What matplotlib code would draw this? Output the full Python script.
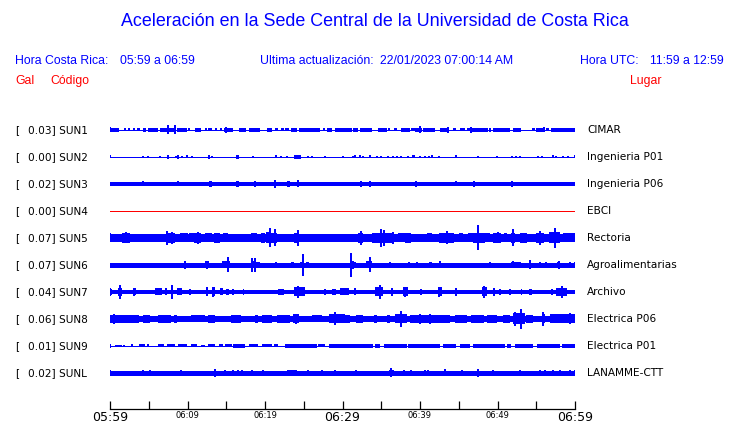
import matplotlib
matplotlib.use('Agg')
import matplotlib.pyplot as plt

# tamaño de la imagen original en pixeles
W, H = 740, 423

# estaciones, aceleración pico [Gal] y lugar
estaciones = ['SUN1', 'SUN2', 'SUN3', 'SUN4', 'SUN5', 'SUN6', 'SUN7', 'SUN8', 'SUN9', 'SUNL']
picos = [0.03, 0.00, 0.02, 0.00, 0.07, 0.07, 0.04, 0.06, 0.01, 0.02]
lugares = ['CIMAR', 'Ingenieria P01', 'Ingenieria P06', 'EBCI', 'Rectoria',
           'Agroalimentarias', 'Archivo', 'Electrica P06', 'Electrica P01', 'LANAMME-CTT']

# etiquetas del eje de tiempo (cada 10 min, ticks cada 5 min)
horas = ['05:59', '06:09', '06:19', '06:29', '06:39', '06:49', '06:59']

# ancho base de cada traza (media amplitud en px)
base = [0.5, 0.5, 1.9, 0.5, 3.2, 1.6, 2.0, 3.0, 0.5, 1.6]

# tramos con mayor actividad: (minuto inicio, minuto fin, media amplitud px)
tramos_sun1 = [(0.0, 1.1, 1.7), (1.8, 2.0, 1.5), (2.3, 2.6, 1.5), (3.0, 3.2, 1.5), (3.5, 3.9, 1.5),
               (4.2, 4.7, 1.7), (4.9, 6.2, 1.7), (6.4, 7.3, 2.0), (7.3, 8.4, 2.3), (8.6, 9.9, 2.0),
               (10.1, 10.3, 1.5), (11.0, 11.8, 1.7), (12.3, 12.5, 1.5), (12.7, 13.1, 1.5),
               (13.5, 13.8, 1.5), (14.2, 14.4, 1.5), (14.7, 15.9, 1.8), (16.6, 17.6, 1.7),
               (17.9, 19.3, 1.7), (20.2, 20.9, 1.7), (21.3, 21.7, 1.5), (22.1, 22.4, 1.5),
               (22.6, 23.1, 1.5), (23.4, 24.1, 1.7), (24.4, 27.1, 1.7), (27.5, 27.8, 1.5),
               (28.0, 28.6, 1.7), (29.0, 31.2, 1.7), (31.4, 32.0, 1.7), (32.3, 33.8, 1.7),
               (34.6, 35.7, 1.7), (35.9, 36.1, 1.5), (36.6, 37.0, 1.5), (37.6, 38.7, 1.7),
               (38.9, 39.3, 1.5), (39.4, 40.2, 2.2), (40.4, 41.9, 1.7), (42.6, 43.6, 1.7),
               (44.3, 44.7, 1.5), (45.2, 45.8, 1.5), (46.0, 46.4, 1.5), (46.6, 48.8, 1.7),
               (49.4, 51.6, 1.7), (52.0, 53.0, 1.7), (54.4, 54.8, 1.5), (55.0, 56.1, 1.7),
               (56.3, 56.7, 1.5), (56.9, 60.0, 2.0)]
tramos_sun2 = [(7.4, 7.6, 1.7), (8.7, 8.9, 2.0), (12.6, 12.9, 1.8), (16.2, 16.6, 1.8),
               (23.7, 24.7, 1.8), (39.0, 39.4, 1.5)]
tramos_sun3 = [(12.8, 13.2, 3.0), (16.2, 16.6, 2.7), (22.9, 23.2, 3.0), (32.2, 32.5, 3.3),
               (33.4, 33.7, 2.7), (39.3, 39.6, 2.7), (46.8, 47.1, 2.8)]
tramos_sun4 = []
tramos_sun5 = [(0.0, 1.6, 3.8), (1.6, 2.6, 4.8), (3.0, 3.6, 4.0), (4.3, 5.0, 4.0), (5.6, 6.3, 4.0),
               (6.6, 7.2, 4.0), (7.2, 8.4, 5.0), (9.0, 10.0, 4.5), (10.2, 10.8, 4.5),
               (10.9, 11.7, 5.0), (12.2, 13.2, 4.5), (13.4, 14.2, 5.0), (14.6, 15.2, 4.5),
               (16.0, 17.4, 4.0), (18.2, 19.0, 4.5), (19.5, 20.0, 5.0), (20.1, 20.7, 5.5),
               (20.7, 21.6, 5.0), (21.9, 23.4, 4.0), (23.8, 24.4, 5.0), (24.6, 30.3, 4.2),
               (30.3, 31.4, 4.0), (32.0, 32.6, 5.0), (33.8, 36.6, 5.0), (37.2, 38.0, 4.5),
               (38.0, 38.8, 5.0), (40.9, 41.6, 4.5), (42.5, 44.4, 5.0), (45.0, 45.6, 4.5),
               (46.2, 46.9, 4.5), (46.9, 48.4, 5.0), (48.4, 49.0, 4.5), (49.4, 50.4, 5.0),
               (50.8, 51.2, 4.5), (51.8, 52.2, 5.0), (52.9, 53.8, 5.0), (55.0, 56.0, 5.0),
               (56.7, 58.1, 5.5), (58.4, 60.0, 4.5)]
tramos_sun6 = [(2.0, 2.3, 2.3), (4.6, 5.2, 2.3), (5.8, 6.9, 2.3), (7.9, 8.8, 2.3), (12.3, 12.8, 3.5),
               (14.4, 15.5, 3.5), (18.2, 18.9, 3.5), (18.9, 19.3, 3.0), (21.3, 21.6, 2.5),
               (22.4, 22.7, 2.3), (23.4, 23.7, 2.5), (24.5, 25.0, 3.0), (25.3, 25.7, 3.0),
               (27.6, 30.3, 2.0), (31.0, 31.7, 3.0), (33.0, 33.8, 3.5), (38.4, 38.7, 2.7),
               (41.2, 41.5, 2.5), (42.0, 44.0, 2.3), (51.8, 53.0, 2.8), (57.7, 58.1, 3.0)]
tramos_sun7 = [(0.0, 0.2, 3.0), (1.0, 1.6, 4.0), (3.0, 3.3, 3.5), (5.8, 6.7, 3.5), (7.1, 7.4, 3.5),
               (8.7, 9.3, 3.5), (10.2, 10.5, 3.0), (12.4, 12.7, 4.0), (13.1, 13.5, 4.5),
               (14.2, 14.6, 3.5), (15.0, 15.3, 3.0), (15.8, 16.0, 3.0), (17.1, 17.3, 3.0),
               (21.7, 22.5, 3.0), (23.8, 25.1, 4.5), (27.6, 27.9, 3.0), (28.6, 29.1, 3.0),
               (29.7, 30.8, 3.5), (31.5, 31.7, 3.5), (34.2, 35.2, 4.5), (36.3, 36.5, 3.5),
               (37.8, 38.5, 4.5), (40.0, 40.2, 3.0), (42.3, 42.8, 4.5), (44.6, 44.8, 3.5),
               (48.0, 48.6, 4.5), (49.4, 49.6, 3.5), (50.2, 50.4, 3.0), (51.5, 51.8, 3.0),
               (53.0, 53.2, 3.0), (54.1, 54.4, 3.0), (56.9, 57.1, 3.0), (57.6, 59.0, 4.0)]
tramos_sun8 = [(0.0, 3.7, 4.0), (4.2, 5.2, 3.8), (6.2, 7.9, 4.0), (8.3, 8.6, 4.0), (10.4, 12.3, 3.5),
               (12.7, 13.5, 4.0), (15.6, 16.9, 3.8), (18.7, 19.1, 4.0), (19.6, 20.9, 4.0),
               (21.5, 23.2, 3.8), (23.6, 24.4, 4.5), (26.0, 27.3, 3.5), (28.3, 30.3, 4.5),
               (29.7, 31.0, 3.8), (31.8, 32.7, 4.0), (34.0, 34.4, 3.8), (35.7, 36.1, 3.8),
               (36.8, 38.3, 4.5), (38.7, 43.9, 4.3), (44.5, 46.0, 3.8), (46.6, 48.2, 4.0),
               (48.6, 49.9, 4.0), (50.7, 51.6, 3.8), (52.0, 53.5, 5.5), (53.7, 54.6, 4.0),
               (55.7, 56.1, 4.5), (56.8, 60.0, 4.5)]
tramos_sun9 = [(0.6, 1.5, 1.4), (1.7, 1.9, 1.4), (3.7, 4.5, 1.5), (4.9, 5.0, 1.4), (6.2, 7.0, 1.5),
               (7.4, 8.4, 1.5), (8.8, 9.9, 1.5), (10.5, 11.2, 1.5), (11.8, 12.3, 1.4),
               (12.7, 13.5, 1.5), (14.0, 14.6, 1.5), (14.8, 15.7, 1.5), (15.9, 17.4, 1.6),
               (17.9, 19.1, 1.5), (19.6, 20.9, 1.5), (21.1, 21.7, 1.5), (22.6, 26.7, 1.6),
               (26.9, 27.7, 1.5), (28.2, 34.0, 1.6), (34.2, 34.8, 1.6), (35.3, 38.3, 1.7),
               (38.5, 42.6, 1.7), (43.0, 44.7, 1.7), (45.2, 46.5, 1.7), (46.9, 51.0, 1.7),
               (51.2, 51.8, 1.7), (52.2, 54.6, 1.7), (55.1, 58.1, 1.7), (58.3, 60.0, 1.7)]
tramos_sunl = [(0.0, 2.5, 2.0), (22.9, 24.1, 2.5), (36.0, 36.6, 3.0)]

# picos aislados: (minuto, media amplitud px)
picos_sun1 = [(0.0, 2.5), (7.5, 4.5), (8.4, 4.5), (15.0, 2.8), (40.0, 3.5), (43.6, 2.7),
              (46.6, 2.7), (49.0, 2.2), (56.0, 2.5)]
picos_sun2 = [(0.0, 1.5), (4.3, 1.3), (4.9, 1.0), (6.4, 1.0), (8.5, 1.0), (9.3, 1.3), (9.9, 1.5),
              (10.6, 1.0), (13.2, 1.3), (18.5, 1.0), (21.4, 1.5), (22.1, 1.0), (22.9, 1.3),
              (25.5, 1.0), (26.1, 1.0), (27.7, 1.0), (30.0, 1.0), (31.3, 1.0), (31.6, 1.5),
              (32.2, 1.5), (32.7, 1.3), (33.5, 1.5), (34.4, 1.0), (35.0, 1.0), (35.9, 1.0),
              (36.5, 1.3), (37.0, 1.0), (37.6, 1.0), (38.5, 1.0), (40.0, 1.0), (40.7, 1.3),
              (41.1, 1.3), (41.5, 1.5), (42.5, 1.0), (44.6, 1.5), (47.5, 1.0), (49.9, 1.3),
              (51.9, 1.3), (52.4, 1.3), (52.9, 1.0), (55.2, 1.0), (55.8, 1.0), (57.1, 1.5),
              (57.6, 1.0), (58.4, 1.0), (59.1, 1.0), (60.0, 1.5)]
picos_sun3 = [(4.3, 2.5), (5.1, 2.3), (6.9, 2.3), (7.4, 2.3), (8.8, 2.5), (9.7, 2.3), (11.1, 2.0),
              (14.6, 2.3), (18.7, 2.7), (21.3, 3.7), (23.7, 2.2), (24.3, 3.5), (25.4, 2.3),
              (25.9, 2.3), (30.5, 2.0), (31.6, 2.3), (35.1, 2.2), (36.0, 2.0), (37.4, 2.3),
              (37.7, 2.3), (38.4, 2.0), (38.8, 2.3), (39.8, 2.3), (41.1, 2.3), (41.5, 2.3),
              (42.6, 2.3), (43.6, 2.3), (44.6, 2.5), (49.0, 2.3), (50.1, 2.0), (51.2, 2.3),
              (51.9, 2.7), (52.5, 2.3), (57.2, 2.3), (57.6, 2.3), (58.4, 2.3), (59.1, 2.3)]
picos_sun4 = []
picos_sun5 = [(0.0, 4.5), (2.0, 5.5), (7.4, 7.0), (8.0, 6.0), (11.4, 6.0), (20.7, 9.5), (21.3, 8.5),
              (24.2, 8.0), (32.4, 7.0), (35.0, 9.0), (35.4, 8.0), (36.5, 6.0), (43.5, 6.5),
              (47.5, 12.5), (50.0, 5.5), (52.0, 8.5), (55.5, 7.0), (57.4, 10.0)]
picos_sun6 = [(0.0, 2.0), (3.7, 2.0), (9.7, 4.0), (12.5, 4.0), (15.2, 7.5), (18.3, 6.7), (18.7, 7.0),
              (24.9, 11.0), (31.1, 12.0), (31.4, 4.0), (33.5, 7.5), (36.1, 2.5), (37.2, 2.3),
              (39.6, 2.5), (42.6, 3.5), (44.7, 2.3), (49.0, 2.5), (52.0, 3.5), (54.2, 4.5),
              (55.5, 2.5), (56.3, 2.5), (57.9, 4.0), (59.3, 2.5), (60.0, 2.5)]
picos_sun7 = [(0.0, 4.0), (1.3, 7.0), (3.1, 4.0), (8.0, 7.0), (12.5, 4.5), (13.3, 5.0), (24.3, 6.0),
              (34.8, 7.0), (36.4, 4.0), (38.1, 5.0), (42.5, 5.0), (44.7, 4.0), (48.3, 6.0),
              (49.5, 4.0), (58.3, 6.0)]
picos_sun8 = [(0.5, 5.0), (24.0, 5.0), (29.0, 6.5), (37.6, 8.0), (40.0, 5.0), (41.3, 5.0),
              (52.2, 7.0), (53.0, 10.0), (55.9, 7.0), (59.3, 5.5)]
picos_sun9 = [(0.0, 2.0), (2.9, 1.5), (4.9, 1.5), (60.0, 2.0)]
picos_sunl = [(0.0, 2.5), (4.2, 2.5), (5.2, 2.5), (9.2, 2.5), (12.3, 2.0), (13.5, 4.0), (14.8, 2.5),
              (15.9, 2.5), (16.5, 3.0), (17.0, 2.5), (18.3, 2.5), (18.7, 2.0), (19.8, 2.5),
              (23.3, 3.0), (25.6, 2.5), (27.3, 2.5), (29.0, 2.5), (31.8, 2.5), (36.2, 4.5),
              (37.9, 2.5), (38.9, 3.0), (40.6, 2.5), (41.0, 2.5), (43.2, 3.5), (45.4, 2.5),
              (47.5, 4.0), (49.4, 2.5), (52.9, 2.5), (55.5, 2.5), (56.1, 2.5), (57.2, 2.5),
              (58.1, 2.5), (59.4, 2.5), (60.0, 2.5)]

tramos = [tramos_sun1, tramos_sun2, tramos_sun3, tramos_sun4, tramos_sun5,
          tramos_sun6, tramos_sun7, tramos_sun8, tramos_sun9, tramos_sunl]
picos_traza = [picos_sun1, picos_sun2, picos_sun3, picos_sun4, picos_sun5,
               picos_sun6, picos_sun7, picos_sun8, picos_sun9, picos_sunl]

AZUL = '#0000ff'
ROJO = '#ff0000'


def fx(x):
    return x / W


def fy(y):
    return 1 - y / H


fig = plt.figure(figsize=(W / 100, H / 100), dpi=100)
fig.patch.set_facecolor('white')

# encabezado
fig.text(fx(375), fy(22), 'Aceleración en la Sede Central de la Universidad de Costa Rica',
         ha='center', va='center', color=AZUL, fontsize=12.9, family='Liberation Sans')
hdr = dict(va='center', color=AZUL, fontsize=8.8, family='Liberation Sans')
fig.text(fx(15), fy(61), 'Hora Costa Rica:', **hdr)
fig.text(fx(120), fy(61), '05:59 a 06:59', **hdr)
fig.text(fx(260), fy(61), 'Ultima actualización:', **hdr)
fig.text(fx(380), fy(61), '22/01/2023 07:00:14 AM', **hdr)
fig.text(fx(580), fy(61), 'Hora UTC:', **hdr)
fig.text(fx(650), fy(61), '11:59 a 12:59', **hdr)
red = dict(hdr, color=ROJO)
fig.text(fx(15), fy(81), 'Gal', **red)
fig.text(fx(50), fy(81), 'Código', **red)
fig.text(fx(630), fy(81), 'Lugar', **red)

# ejes de las trazas: x en minutos, y en pixeles de la imagen
y_top, y_bot = 116, 409
ax = fig.add_axes([fx(110), fy(y_bot), (575 - 110) / W, (y_bot - y_top) / H])
ax.set_xlim(0, 60)
ax.set_ylim(y_bot, y_top)
ax.patch.set_alpha(0)

fila0, paso = 130, 27
for i, est in enumerate(estaciones):
    yc = fila0 + i * paso
    col = ROJO if est == 'SUN4' else AZUL
    b = base[i]
    ax.hlines(yc, 0, 60, colors=col, lw=max(2 * b, 1.0) * 0.72, antialiased=False)
    if tramos[i]:
        ini = [t[0] for t in tramos[i]]
        anc = [t[1] - t[0] for t in tramos[i]]
        hh = [t[2] for t in tramos[i]]
        ax.bar(ini, [2 * h for h in hh], width=anc, bottom=[yc - h for h in hh],
               align='edge', color=col, linewidth=0, antialiased=False)
    if picos_traza[i]:
        xs = [p[0] for p in picos_traza[i]]
        hs = [p[1] for p in picos_traza[i]]
        ax.vlines(xs, [yc - h for h in hs], [yc + h for h in hs], colors=col, lw=1.1,
                  antialiased=False)

    # etiquetas a la izquierda y derecha
    fig.text(fx(15), fy(yc), '[', va='center', fontsize=7.6, family='DejaVu Sans')
    fig.text(fx(27.5), fy(yc), f'{picos[i]:.2f}] {est}', va='center', fontsize=7.6,
             family='DejaVu Sans')
    fig.text(fx(587), fy(yc), lugares[i], va='center', fontsize=7.6, family='DejaVu Sans')

# eje de tiempo
for s in ['left', 'right', 'top']:
    ax.spines[s].set_visible(False)
ax.spines['bottom'].set_linewidth(0.9)
ax.set_yticks([])
ax.set_xticks(range(0, 61, 5))
etiquetas = []
for k in range(13):
    etiquetas.append(horas[k // 2] if k % 2 == 0 else '')
ax.set_xticklabels(etiquetas, family='DejaVu Sans')
ax.tick_params(axis='x', direction='in', length=5.8, width=0.9, pad=1.5)
for k, lbl in enumerate(ax.get_xticklabels()):
    lbl.set_fontsize(9 if k in (0, 6, 12) else 6)

fig.savefig('out.png', dpi=100)
